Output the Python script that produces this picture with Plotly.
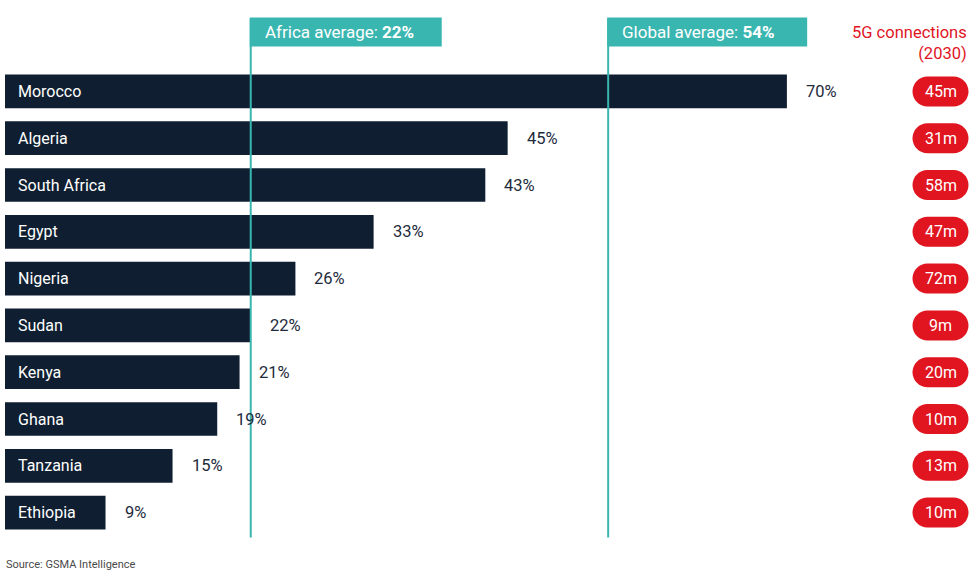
import plotly.graph_objects as go

countries = ["Morocco", "Algeria", "South Africa", "Egypt", "Nigeria",
             "Sudan", "Kenya", "Ghana", "Tanzania", "Ethiopia"]
share = [70, 45, 43, 33, 26, 22, 21, 19, 15, 9]
connections = ["45m", "31m", "58m", "47m", "72m", "9m", "20m", "10m", "13m", "10m"]
africa_avg = 22
global_avg = 54
source = "Source: GSMA Intelligence"

W, H = 975, 576
NAVY = "#0F1F31"
TEAL = "#3AB6B1"
RED = "#E0151F"
TXT = "#1E2B3C"
FONT = "Roboto"
FS = 16

PX0 = 5.0          # pixel where x=0
SCALE = 11.17      # px per percentage point
T, B = 67.5, 536.5  # plot area top/bottom in px

def py2paper(py):
    return (B - py) / (B - T)

fig = go.Figure()
fig.add_trace(go.Bar(
    y=countries, x=share, orientation="h",
    marker=dict(color=NAVY, line=dict(width=0)),
    width=0.72, hoverinfo="skip",
))

annotations = []
shapes = []

for c, v, m in zip(countries, share, connections):
    annotations.append(dict(x=0, y=c, xref="x", yref="y", text=c, showarrow=False,
                            xanchor="left", yanchor="middle", xshift=11,
                            font=dict(family=FONT, size=FS, color="white")))
    annotations.append(dict(x=v, y=c, xref="x", yref="y", text=f"{v}%", showarrow=False,
                            xanchor="left", yanchor="middle", xshift=17,
                            font=dict(family=FONT, size=16.5, color=TXT)))
    # pill
    w, h = 56, 30
    r = h / 2
    k = 0.5523 * r
    hw = w / 2
    path = (f"M {-hw + r},{-r} L {hw - r},{-r} "
            f"C {hw - r + k},{-r} {hw},{-k} {hw},0 "
            f"C {hw},{k} {hw - r + k},{r} {hw - r},{r} "
            f"L {-hw + r},{r} "
            f"C {-hw + r - k},{r} {-hw},{k} {-hw},0 "
            f"C {-hw},{-k} {-hw + r - k},{-r} {-hw + r},{-r} Z")
    shapes.append(dict(type="path", xref="paper", yref="y",
                       xsizemode="pixel", ysizemode="pixel",
                       xanchor=940.5 / W, yanchor=c, path=path,
                       fillcolor=RED, line=dict(width=0), layer="above"))
    annotations.append(dict(x=940.5 / W, y=c, xref="paper", yref="y", text=m, showarrow=False,
                            xanchor="center", yanchor="middle",
                            font=dict(family=FONT, size=FS, color="white")))

# average lines and boxes
for val, label, boxw in [(africa_avg, "Africa average", 191), (global_avg, "Global average", 199)]:
    shapes.append(dict(type="line", xref="x", yref="paper", x0=val, x1=val,
                       y0=py2paper(538), y1=py2paper(18),
                       line=dict(color=TEAL, width=2), layer="above"))
    shapes.append(dict(type="rect", xref="x", yref="paper", xsizemode="pixel",
                       xanchor=val, x0=-1, x1=boxw,
                       y0=py2paper(46), y1=py2paper(17),
                       fillcolor=TEAL, line=dict(width=0), layer="above"))
    annotations.append(dict(x=val, y=py2paper(31.5), xref="x", yref="paper",
                            text=f"{label}: <b>{val}%</b>", showarrow=False,
                            xanchor="left", yanchor="middle", xshift=12,
                            font=dict(family=FONT, size=17, color="white")))

annotations.append(dict(x=969 / W, y=py2paper(42), xref="paper", yref="paper",
                        text="5G connections<br>(2030)", showarrow=False,
                        xanchor="right", yanchor="middle", align="right",
                        font=dict(family=FONT, size=16.5, color=RED)))
annotations.append(dict(x=4 / W, y=py2paper(565), xref="paper", yref="paper",
                        text=source, showarrow=False, xanchor="left", yanchor="middle",
                        font=dict(family=FONT, size=11, color="#4a4a4a")))

x_lo = -PX0 / SCALE
x_hi = (W - PX0) / SCALE

fig.update_layout(
    width=W, height=H,
    margin=dict(l=0, r=0, t=T, b=H - B, pad=0),
    paper_bgcolor="white", plot_bgcolor="white",
    showlegend=False,
    xaxis=dict(range=[x_lo, x_hi], visible=False, fixedrange=True),
    yaxis=dict(type="category", range=[len(countries) - 0.5, -0.5],
               visible=False, fixedrange=True),
    shapes=shapes, annotations=annotations,
)

fig.write_html("out.html", config={"displayModeBar": False},
               post_script="document.body.style.margin='0';document.body.style.overflow='hidden';")
